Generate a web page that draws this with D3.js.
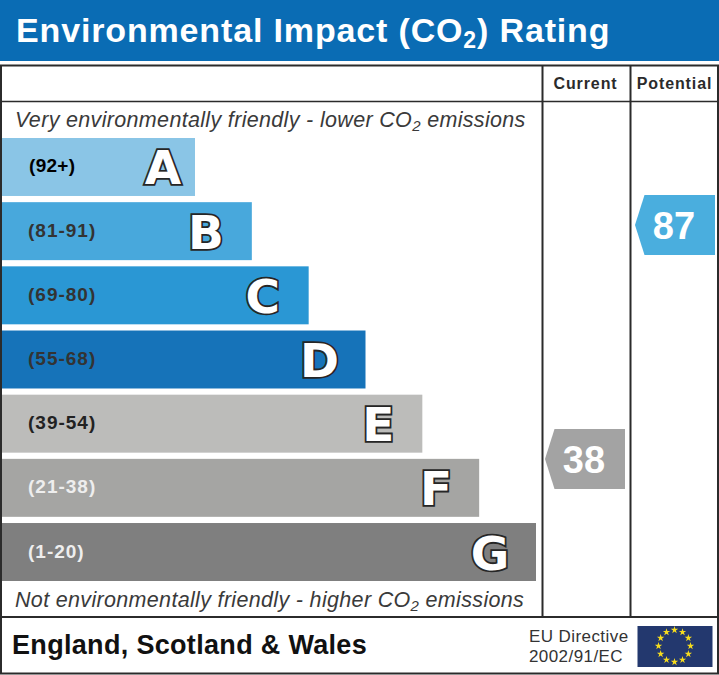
<!DOCTYPE html>
<html><head><meta charset="utf-8">
<script src="https://cdn.jsdelivr.net/npm/d3@7/dist/d3.min.js"></script>
<style>html,body{margin:0;padding:0;background:#fff}svg{display:block}text{font-family:"Liberation Sans",Arial,sans-serif}</style>
</head><body><svg id="c" width="719" height="675"></svg>
<script>
const bands = ["A","B","C","D","E","F","G"];
const ranges = ["(92+)","(81-91)","(69-80)","(55-68)","(39-54)","(21-38)","(1-20)"];
const barSteps = [1,2,3,4,5,6,7];
const bandColors = ["#8ac5e6","#48a8dc","#2a97d4","#1673b9","#bcbcba","#a5a5a3","#7f7f7f"];
const rangeColors = ["#000","#333","#333","#333","#222","#eee","#eee"];
const markerColumns = ["Current","Potential"];
const markerValues = [38,87];
const markerColors = ["#a3a3a3","#4aaede"];
const title = ["Environmental Impact (CO","2",") Rating"];
const topNote = ["Very environmentally friendly - lower CO","2"," emissions"];
const bottomNote = ["Not environmentally friendly - higher CO","2"," emissions"];
const footer = "England, Scotland & Wales";
const directive = ["EU Directive","2002/91/EC"];

const svg = d3.select("#c");
const ink = "#2b2b2b";
svg.append("rect").attr("width",719).attr("height",675).attr("fill","#fff");
svg.append("rect").attr("width",719).attr("height",61).attr("fill","#0a6cb4");

function sub(parent, parts, x, y, size, attrs, subSize, dy){
  const t = parent.append("text").attr("x",x).attr("y",y).attr("font-size",size);
  Object.entries(attrs).forEach(([k,v])=>t.attr(k,v));
  t.append("tspan").text(parts[0]);
  t.append("tspan").attr("font-size",subSize).attr("dy",dy).text(parts[1]);
  t.append("tspan").attr("dy",-dy).text(parts[2]);
  return t;
}
sub(svg,title,16,42,34,{fill:"#fff","font-weight":"bold","letter-spacing":"0.85px"},23,6);

// frame
const frame = svg.append("g").attr("stroke",ink).attr("fill","none");
frame.append("rect").attr("x",1).attr("y",65.5).attr("width",717).attr("height",608).attr("stroke-width",2);
frame.append("line").attr("x1",1).attr("x2",718).attr("y1",101.5).attr("y2",101.5).attr("stroke-width",1.6);
frame.append("line").attr("x1",1).attr("x2",718).attr("y1",617).attr("y2",617).attr("stroke-width",2);
const colX = d3.scaleOrdinal().domain(markerColumns).range([542.5,630.5]);
markerColumns.forEach(c=>frame.append("line").attr("x1",colX(c)).attr("x2",colX(c)).attr("y1",65.5).attr("y2",617).attr("stroke-width",2));

const colMid = d3.scaleOrdinal().domain(markerColumns).range([585.5,674.5]);
svg.selectAll(".hdr").data(markerColumns).join("text").attr("x",d=>colMid(d)).attr("y",89)
  .attr("text-anchor","middle").attr("font-size",16).attr("font-weight","bold").attr("letter-spacing","0.9px").attr("fill",ink).text(d=>d);

sub(svg,topNote,15,127,21.5,{"font-style":"italic",fill:"#3a3a3a","letter-spacing":"0.33px"},15,4);
sub(svg,bottomNote,15,607,21.5,{"font-style":"italic",fill:"#3a3a3a","letter-spacing":"0.33px"},15,4);

// bars
const y = d3.scaleBand().domain(bands).range([138,581]).paddingInner(0.0965).paddingOuter(0);
const barEnd = d3.scaleLinear().domain([1,7]).range([195,536]);
const letterInset = d => d==="A" ? 32 : d==="E" ? 44 : d==="F" ? 43 : 46;
const rows = svg.selectAll(".row").data(bands).join("g");
rows.append("rect").attr("x",2).attr("y",d=>y(d)).attr("height",y.bandwidth())
  .attr("width",(d,i)=>barEnd(barSteps[i])-2).attr("fill",(d,i)=>bandColors[i]);
rows.append("text").attr("x",(d,i)=>i?28:29).attr("y",d=>y(d)+y.bandwidth()/2+5.5)
  .attr("font-size",19).attr("font-weight","bold").attr("letter-spacing",(d,i)=>i?"1px":"0.3px")
  .attr("fill",(d,i)=>rangeColors[i]).text((d,i)=>ranges[i]);
rows.append("text").attr("x",(d,i)=>barEnd(barSteps[i])-letterInset(d)).attr("y",d=>y(d)+y.bandwidth()/2+17.5)
  .attr("text-anchor","middle").attr("font-size",47).attr("font-weight","bold").style("font-family","'DejaVu Sans'")
  .attr("fill","#fff").attr("stroke","#262626").attr("stroke-width",3.6).attr("paint-order","stroke").attr("stroke-linejoin","miter")
  .text(d=>d);

// rating markers
const my = d3.scaleLinear().domain([87,38]).range([225,459]);
const mx = d3.scaleOrdinal().domain(markerColumns).range([545,635]);
const gm = svg.selectAll(".mk").data(markerColumns).join("g")
  .attr("transform",(d,i)=>`translate(${mx(d)},${my(markerValues[i])})`);
gm.append("path").attr("d",d3.line()([[0,0],[9.5,-30],[80,-30],[80,30],[9.5,30]])+"Z").attr("fill",(d,i)=>markerColors[i]);
gm.append("text").attr("x",39).attr("y",13.5).attr("text-anchor","middle").attr("font-size",38).attr("font-weight","bold")
  .attr("fill","#fff").text((d,i)=>markerValues[i]);

// footer
svg.append("text").attr("x",12).attr("y",654).attr("font-size",27).attr("font-weight","bold").attr("letter-spacing","0.32px").attr("fill","#111").text(footer);
svg.selectAll(".dir").data(directive).join("text").attr("x",529).attr("y",(d,i)=>642+i*20)
  .attr("font-size",17).attr("letter-spacing","0.42px").attr("fill","#333").text(d=>d);

// EU flag
svg.append("rect").attr("x",637.5).attr("y",626).attr("width",75).attr("height",41).attr("fill","#23386e");
const starAngle = d3.scaleLinear().domain([0,12]).range([0,2*Math.PI]);
svg.selectAll(".st").data(d3.range(12)).join("path")
  .attr("d",d3.symbol(d3.symbolStar,17))
  .attr("fill","#f6dc1e")
  .attr("transform",d=>`translate(${674.5+16*Math.sin(starAngle(d))},${646-16*Math.cos(starAngle(d))})`);
</script></body></html>
